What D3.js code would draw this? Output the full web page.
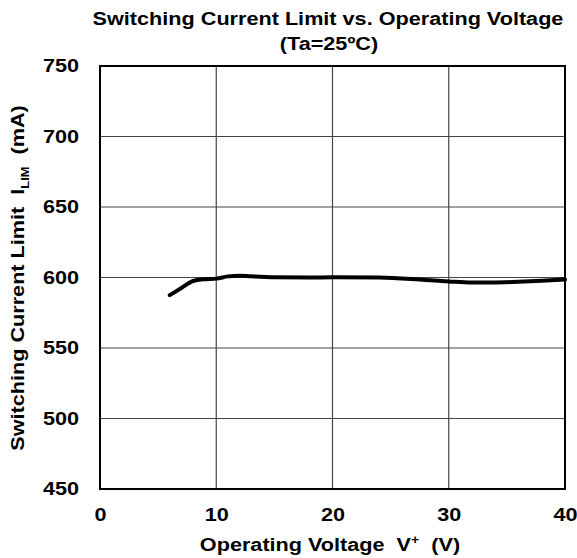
<!DOCTYPE html>
<html>
<head>
<meta charset="utf-8">
<script src="https://cdn.jsdelivr.net/npm/d3@7"></script>
<style>
  body { margin: 0; background: #fff; }
  text { font-family: 'Liberation Sans', Arial, sans-serif; font-weight: bold; fill: #000; white-space: pre; }
</style>
</head>
<body>
<div id="chart"></div>
<script>
// operating voltage (V) and current limit (mA)
const voltage = [6, 7, 8, 9, 10, 11, 12, 13, 15, 18, 20, 24, 28, 30, 32, 34, 36, 38, 40]
const currentLimit = [587.5, 592.5, 597.5, 598.8, 599.2, 600.8, 601.3, 600.8, 600.1, 600.0, 600.1, 600.0, 598.2, 597.2, 596.5, 596.5, 597.0, 597.7, 598.5]

const xTicks = [0, 10, 20, 30, 40]
const yTicks = [450, 500, 550, 600, 650, 700, 750]

const margin = { top: 66, left: 100, right: 12, bottom: 69 }
const width = 577 - margin.left - margin.right
const height = 558 - margin.top - margin.bottom

// the original font is a bit wider than Liberation Sans
const stretch = 1.17

function widen(sel) {
  sel.each(function() {
    const x = +this.getAttribute('x') || 0
    d3.select(this).attr('transform', 'translate(' + x * (1 - stretch) + ',0) scale(' + stretch + ',1)')
  })
}

const svg = d3
  .select('#chart')
  .append('svg')
  .attr('width', 577)
  .attr('height', 558)

const g = svg
  .append('g')
  .attr('transform', 'translate(' + margin.left + ',' + margin.top + ')')

const xScale = d3.scaleLinear().domain([0, 40]).range([0, width])
const yScale = d3.scaleLinear().domain([450, 750]).range([height, 0])

// grid lines
g.selectAll('.vgrid')
  .data(xTicks.slice(1, -1))
  .enter()
  .append('line')
  .attr('x1', d => xScale(d))
  .attr('x2', d => xScale(d))
  .attr('y1', 0)
  .attr('y2', height)
  .attr('stroke', '#444')
  .attr('stroke-width', 1.2)

g.selectAll('.hgrid')
  .data(yTicks.slice(1, -1))
  .enter()
  .append('line')
  .attr('x1', 0)
  .attr('x2', width)
  .attr('y1', d => yScale(d))
  .attr('y2', d => yScale(d))
  .attr('stroke', '#444')
  .attr('stroke-width', 1.2)

// frame
g.append('rect')
  .attr('width', width)
  .attr('height', height)
  .attr('fill', 'none')
  .attr('stroke', '#000')
  .attr('stroke-width', 2)

// axes (labels only)
const xAxis = g
  .append('g')
  .attr('transform', 'translate(0,' + height + ')')
  .call(d3.axisBottom(xScale).tickValues(xTicks).tickSize(0).tickPadding(19))
xAxis.select('.domain').remove()
xAxis.selectAll('text')
  .attr('font-size', 18.5)
  .style('font-family', 'Liberation Sans, Arial, sans-serif')
  .style('font-weight', 'bold')
  .call(widen)

const yAxis = g
  .append('g')
  .call(d3.axisLeft(yScale).tickValues(yTicks).tickSize(0).tickPadding(21))
yAxis.select('.domain').remove()
yAxis.selectAll('text')
  .attr('font-size', 18.5)
  .style('font-family', 'Liberation Sans, Arial, sans-serif')
  .style('font-weight', 'bold')
  .call(widen)

// data line
const points = voltage.map((v, i) => ({ v: v, mA: currentLimit[i] }))
const line = d3
  .line()
  .x(d => xScale(d.v))
  .y(d => yScale(d.mA))
  .curve(d3.curveMonotoneX)

g.append('path')
  .datum(points)
  .attr('d', line)
  .attr('fill', 'none')
  .attr('stroke', '#000')
  .attr('stroke-width', 4)
  .attr('stroke-linecap', 'round')

// titles
svg.append('text')
  .attr('x', 328)
  .attr('y', 25)
  .attr('text-anchor', 'middle')
  .attr('font-size', 18.5)
  .text('Switching Current Limit vs. Operating Voltage')
  .call(widen)

svg.append('text')
  .attr('x', 329)
  .attr('y', 50)
  .attr('text-anchor', 'middle')
  .attr('font-size', 18.5)
  .text('(Ta=25ºC)')
  .call(widen)

const xLabel = svg.append('text')
  .attr('x', 330)
  .attr('y', 551)
  .attr('text-anchor', 'middle')
  .attr('font-size', 18.5)
xLabel.append('tspan').text('Operating Voltage  V')
xLabel.append('tspan').attr('font-size', 12).attr('dy', -7).text('+')
xLabel.append('tspan').attr('dy', 7).text('  (V)')
xLabel.call(widen)

const yLabel = svg.append('text')
  .attr('transform', 'translate(24,278) rotate(-90) scale(' + stretch + ',1)')
  .attr('text-anchor', 'middle')
  .attr('font-size', 18.5)
yLabel.append('tspan').text('Switching Current Limit  I')
yLabel.append('tspan').attr('font-size', 11).attr('dy', 5).text('LIM')
yLabel.append('tspan').attr('dy', -5).text('  (mA)')
</script>
</body>
</html>
